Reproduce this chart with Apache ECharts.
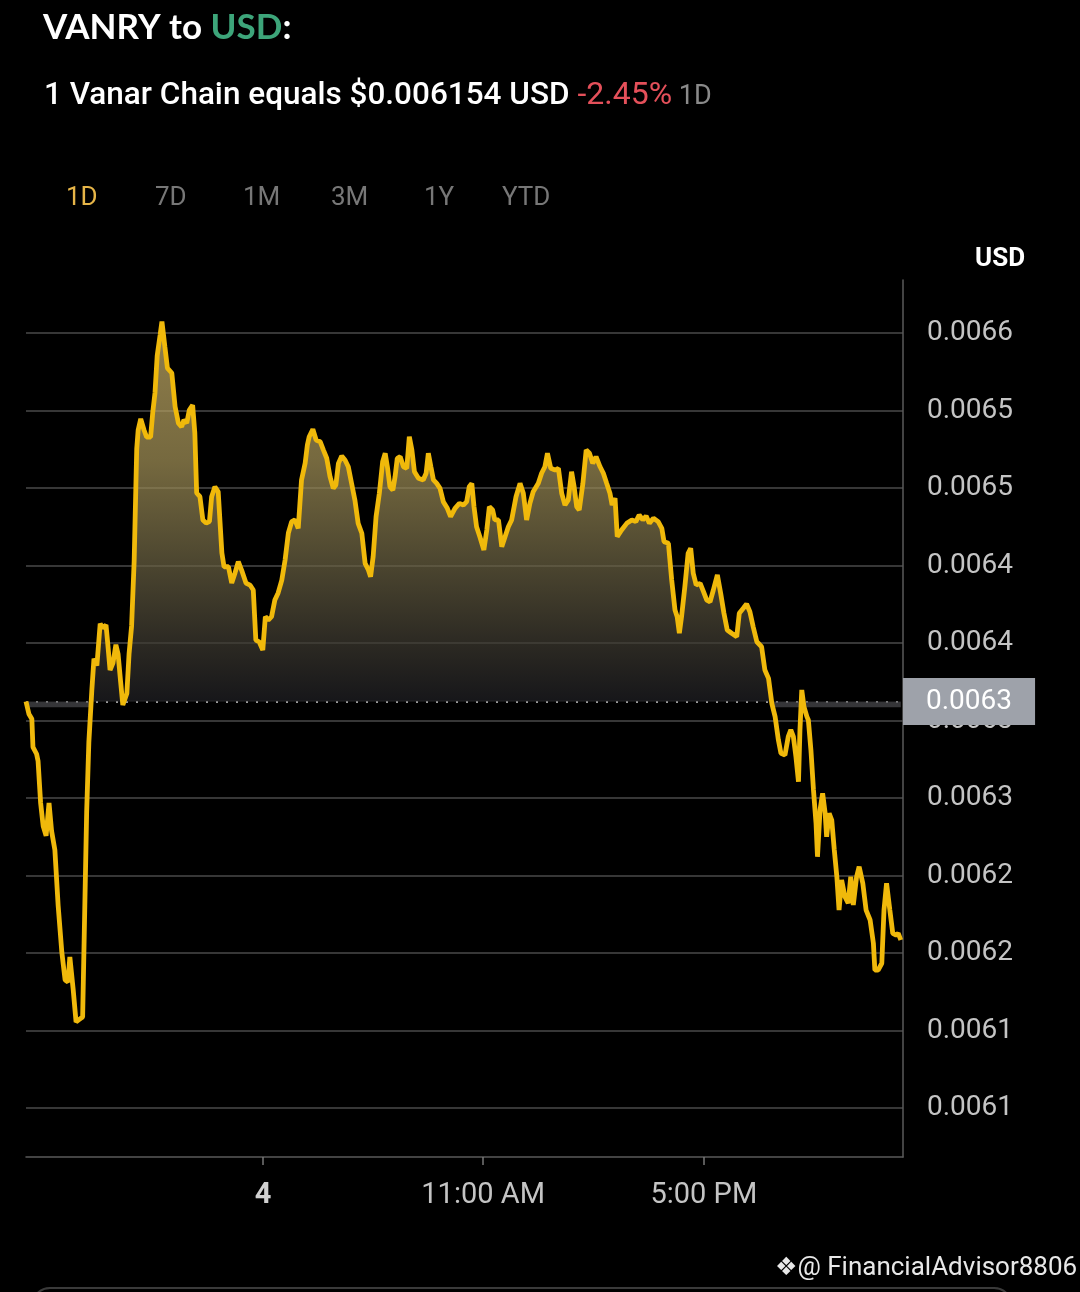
<!DOCTYPE html>
<html>
<head>
<meta charset="utf-8">
<script src="https://cdn.jsdelivr.net/npm/echarts@6/dist/echarts.min.js"></script>
<style>
html,body{margin:0;padding:0;background:#000;}
#main{width:1080px;height:1292px;}
</style>
</head>
<body>
<div id="main"></div>
<script>
// ---- data (hours since start of window, price in USD) ----
const times = [0.00,0.08,0.16,0.19,0.29,0.33,0.40,0.47,0.55,0.63,0.70,0.79,0.88,0.98,1.07,1.15,1.20,1.29,1.37,1.45,1.55,1.61,1.66,1.72,1.80,1.86,1.94,2.03,2.10,2.19,2.24,2.30,2.38,2.46,2.52,2.59,2.65,2.76,2.82,2.89,2.96,3.03,3.07,3.14,3.23,3.30,3.41,3.47,3.53,3.59,3.67,3.72,3.80,3.87,3.99,4.08,4.17,4.26,4.32,4.40,4.47,4.56,4.62,4.67,4.76,4.84,4.93,5.02,5.08,5.17,5.26,5.36,5.42,5.54,5.63,5.72,5.81,5.90,6.02,6.13,6.22,6.29,6.38,6.48,6.55,6.63,6.72,6.81,6.90,7.00,7.09,7.18,7.27,7.36,7.45,7.54,7.64,7.70,7.75,7.85,7.94,8.05,8.14,8.23,8.32,8.41,8.48,8.55,8.64,8.73,8.82,8.91,9.00,9.09,9.19,9.28,9.37,9.43,9.50,9.58,9.67,9.76,9.83,9.89,9.96,10.04,10.10,10.16,10.24,10.33,10.42,10.49,10.56,10.63,10.74,10.87,10.95,11.01,11.08,11.15,11.24,11.33,11.42,11.53,11.62,11.74,11.86,11.97,12.06,12.13,12.20,12.26,12.33,12.42,12.53,12.61,12.68,12.77,12.83,12.93,13.02,13.11,13.20,13.29,13.41,13.52,13.61,13.70,13.79,13.88,14.02,14.11,14.20,14.27,14.36,14.48,14.57,14.66,14.75,14.84,14.93,15.00,15.07,15.14,15.24,15.33,15.42,15.51,15.60,15.71,15.80,15.89,15.98,16.04,16.12,16.18,16.30,16.44,16.58,16.69,16.78,16.88,16.97,17.06,17.17,17.30,17.40,17.46,17.58,17.67,17.76,17.82,17.88,17.94,18.03,18.12,18.19,18.26,18.34,18.45,18.54,18.63,18.72,18.81,18.92,19.01,19.10,19.19,19.31,19.45,19.52,19.63,19.72,19.81,19.90,20.00,20.13,20.22,20.32,20.41,20.50,20.59,20.66,20.77,20.86,20.93,21.00,21.07,21.14,21.18,21.23,21.29,21.37,21.41,21.48,21.55,21.62,21.66,21.73,21.80,21.87,21.91,21.98,22.05,22.12,22.19,22.25,22.32,22.41,22.50,22.57,22.64,22.73,22.80,22.90,22.99,23.10,23.19,23.23,23.32,23.42,23.48,23.55,23.64,23.72,23.81,23.87,23.94];
const prices = [0.0063623,0.0063542,0.0063510,0.0063329,0.0063284,0.0063239,0.0062968,0.0062819,0.0062757,0.0062968,0.0062787,0.0062665,0.0062306,0.0062006,0.0061826,0.0061813,0.0061974,0.0061768,0.0061555,0.0061570,0.0061587,0.0062310,0.0062910,0.0063361,0.0063690,0.0063899,0.0063854,0.0064125,0.0064097,0.0064116,0.0063989,0.0063826,0.0063871,0.0063989,0.0063929,0.0063748,0.0063600,0.0063674,0.0063929,0.0064110,0.0064529,0.0065252,0.0065374,0.0065446,0.0065374,0.0065329,0.0065329,0.0065490,0.0065613,0.0065852,0.0065987,0.0066074,0.0065912,0.0065774,0.0065742,0.0065525,0.0065419,0.0065395,0.0065439,0.0065419,0.0065503,0.0065535,0.0065355,0.0064968,0.0064944,0.0064794,0.0064774,0.0064783,0.0064944,0.0065008,0.0064976,0.0064581,0.0064492,0.0064492,0.0064387,0.0064452,0.0064525,0.0064471,0.0064387,0.0064374,0.0064342,0.0064019,0.0064008,0.0063955,0.0064170,0.0064148,0.0064170,0.0064277,0.0064323,0.0064406,0.0064535,0.0064710,0.0064783,0.0064794,0.0064740,0.0065052,0.0065161,0.0065277,0.0065331,0.0065379,0.0065310,0.0065299,0.0065245,0.0065192,0.0065073,0.0064998,0.0065019,0.0065159,0.0065206,0.0065181,0.0065137,0.0065030,0.0064923,0.0064772,0.0064708,0.0064514,0.0064471,0.0064428,0.0064557,0.0064815,0.0064966,0.0065170,0.0065224,0.0065137,0.0065008,0.0064987,0.0065073,0.0065192,0.0065202,0.0065137,0.0065127,0.0065331,0.0065245,0.0065105,0.0065063,0.0065052,0.0065095,0.0065224,0.0065137,0.0065052,0.0065030,0.0064998,0.0064912,0.0064869,0.0064815,0.0064869,0.0064901,0.0064890,0.0064912,0.0065008,0.0065030,0.0064879,0.0064750,0.0064686,0.0064600,0.0064729,0.0064879,0.0064858,0.0064794,0.0064794,0.0064621,0.0064686,0.0064750,0.0064794,0.0064944,0.0065030,0.0064966,0.0064794,0.0064901,0.0064976,0.0065030,0.0065095,0.0065137,0.0065224,0.0065127,0.0065116,0.0065127,0.0064966,0.0064890,0.0064923,0.0065105,0.0065008,0.0064879,0.0064858,0.0065030,0.0065245,0.0065224,0.0065159,0.0065202,0.0065137,0.0065095,0.0065030,0.0064966,0.0064890,0.0064934,0.0064686,0.0064729,0.0064772,0.0064794,0.0064783,0.0064826,0.0064794,0.0064819,0.0064772,0.0064805,0.0064783,0.0064740,0.0064654,0.0064643,0.0064406,0.0064213,0.0064170,0.0064063,0.0064170,0.0064363,0.0064579,0.0064611,0.0064450,0.0064374,0.0064385,0.0064331,0.0064277,0.0064266,0.0064342,0.0064439,0.0064321,0.0064192,0.0064084,0.0064063,0.0064041,0.0064192,0.0064224,0.0064252,0.0064202,0.0064105,0.0064008,0.0063976,0.0063826,0.0063772,0.0063611,0.0063525,0.0063374,0.0063288,0.0063277,0.0063396,0.0063439,0.0063396,0.0063266,0.0063105,0.0063439,0.0063697,0.0063589,0.0063525,0.0063503,0.0063310,0.0063052,0.0062837,0.0062621,0.0062923,0.0063030,0.0062901,0.0062750,0.0062901,0.0062858,0.0062665,0.0062492,0.0062277,0.0062471,0.0062363,0.0062321,0.0062492,0.0062310,0.0062492,0.0062557,0.0062450,0.0062277,0.0062213,0.0062063,0.0061890,0.0061890,0.0061934,0.0062277,0.0062450,0.0062277,0.0062127,0.0062116,0.0062127,0.0062084];
const yTickValues = [0.0061,0.00615,0.0062,0.00625,0.0063,0.00635,0.0064,0.00645,0.0065,0.00655,0.0066];
const xTickValues = [6.49, 12.51, 18.55];
const xTickLabels = ['4', '11:00 AM', '5:00 PM'];
const rangeTabs = ['1D', '7D', '1M', '3M', '1Y', 'YTD'];
const openPrice = prices[0];

const seriesData = times.map((t, i) => [t, prices[i]]);
const fmt4 = v => (Math.floor(v * 10000 + 1e-6) / 10000).toFixed(4);

const chart = echarts.init(document.getElementById('main'), null, {renderer: 'canvas'});

const tabX = [66, 155, 243, 331, 424, 502];
const graphics = [
  {type: 'text', left: 43, top: 10, style: {
    text: '{w|VANRY to }{g|USD}{w|:}',
    rich: {
      w: {fill: '#ffffff', font: 'bold 35px Lato'},
      g: {fill: '#3da57a', font: 'bold 35px Lato'}
    }
  }},
  {type: 'text', left: 44, top: 80, style: {
    text: '{w|1 Vanar Chain equals $0.006154 USD }{r|-2.45%}{s| 1D}',
    rich: {
      w: {fill: '#ffffff', font: '500 31.5px Roboto', verticalAlign: 'bottom', height: 38},
      r: {fill: '#e4505a', font: '400 32px Roboto', verticalAlign: 'bottom', height: 38},
      s: {fill: '#8a8a8a', font: '400 27px Roboto', verticalAlign: 'bottom', height: 36}
    }
  }},
  {type: 'text', left: 975, top: 246, style: {text: 'USD', fill: '#ffffff', font: 'bold 26px Roboto'}},
  {type: 'text', left: 775, top: 1255, style: {
    text: '{i|❖}{t|@ FinancialAdvisor8806}',
    rich: {
      i: {fill: '#e8e8e8', font: '25px "DejaVu Sans"'},
      t: {fill: '#e8e8e8', font: '26px Roboto'}
    }
  }},
  {type: 'rect', shape: {x: 32, y: 1288, width: 980, height: 40, r: 18},
   style: {fill: 'none', stroke: '#3a3a3a', lineWidth: 2}}
];
rangeTabs.forEach((t, i) => {
  graphics.push({type: 'text', left: tabX[i], top: 185, style: {
    text: t, fill: i === 0 ? '#e6b548' : '#777777', font: '26px Roboto'
  }});
});

const option = {
  backgroundColor: '#000000',
  animation: false,
  graphic: graphics,
  grid: {left: 26, right: 177, top: 280, bottom: 135, containLabel: false},
  xAxis: {
    type: 'value', min: 0, max: 24,
    axisLine: {show: true, onZero: false, lineStyle: {color: '#5a5a5a', width: 1.5}},
    axisTick: {show: true, length: 8, customValues: xTickValues, lineStyle: {color: '#777', width: 1.5}},
    axisLabel: {
      show: true, customValues: xTickValues, margin: 24,
      formatter: v => {
        const i = xTickValues.findIndex(x => Math.abs(x - v) < 1e-6);
        const s = i >= 0 ? xTickLabels[i] : '';
        return i === 0 ? '{b|' + s + '}' : s;
      },
      color: '#c4c4c4', fontSize: 29, fontFamily: 'Roboto',
      rich: {b: {color: '#d0d0d0', fontSize: 29, fontWeight: 'bold', fontFamily: 'Roboto'}}
    },
    splitLine: {show: false}
  },
  yAxis: {
    type: 'value', position: 'right',
    min: 0.0060684, max: 0.0066342,
    axisLine: {show: true, onZero: false, lineStyle: {color: '#5a5a5a', width: 1.5}},
    axisTick: {show: false, customValues: yTickValues},
    axisLabel: {
      show: true, customValues: yTickValues, margin: 24,
      formatter: v => '{v|' + fmt4(v) + '}',
      color: '#c4c4c4', fontSize: 28, fontFamily: 'Roboto',
      rich: {v: {color: '#c4c4c4', fontSize: 28, fontFamily: 'Roboto', height: 36, verticalAlign: 'bottom'}}
    },
    splitLine: {show: true, lineStyle: {color: '#4a4a4a', width: 1.5}}
  },
  series: [{
    type: 'line',
    data: seriesData,
    showSymbol: false,
    symbol: 'none',
    clip: false,
    lineStyle: {color: '#f0b90b', width: 4.8},
    z: 5,
    areaStyle: {
      origin: openPrice,
      color: {
        type: 'linear', x: 0, y: 320, x2: 0, y2: 712, global: true,
        colorStops: [
          {offset: 0, color: '#d0b66c'},
          {offset: 0.36, color: '#a8965a'},
          {offset: 0.61, color: '#6f6645'},
          {offset: 0.82, color: '#403c32'},
          {offset: 0.969, color: '#212125'},
          {offset: 0.976, color: '#4c4c50'},
          {offset: 0.987, color: '#4c4c50'},
          {offset: 0.99, color: 'rgba(0,0,0,0)'},
          {offset: 1, color: 'rgba(0,0,0,0)'}
        ]
      }
    },
    markLine: {
      silent: true,
      symbol: ['none', 'none'],
      precision: 7,
      lineStyle: {color: '#d0d0d0', type: [2, 8], width: 1.5},
      label: {
        show: true, position: 'end', distance: 0,
        formatter: p => '{v|' + fmt4(Number(p.value)) + '}',
        color: '#ffffff', fontSize: 28, fontFamily: 'Roboto',
        backgroundColor: '#9ea2aa', padding: [8, 23, 7, 23],
        rich: {v: {color: '#ffffff', fontSize: 28, fontFamily: 'Roboto', height: 32, verticalAlign: 'bottom'}}
      },
      data: [{yAxis: openPrice}]
    }
  }]
};
chart.setOption(option);
</script>
</body>
</html>
